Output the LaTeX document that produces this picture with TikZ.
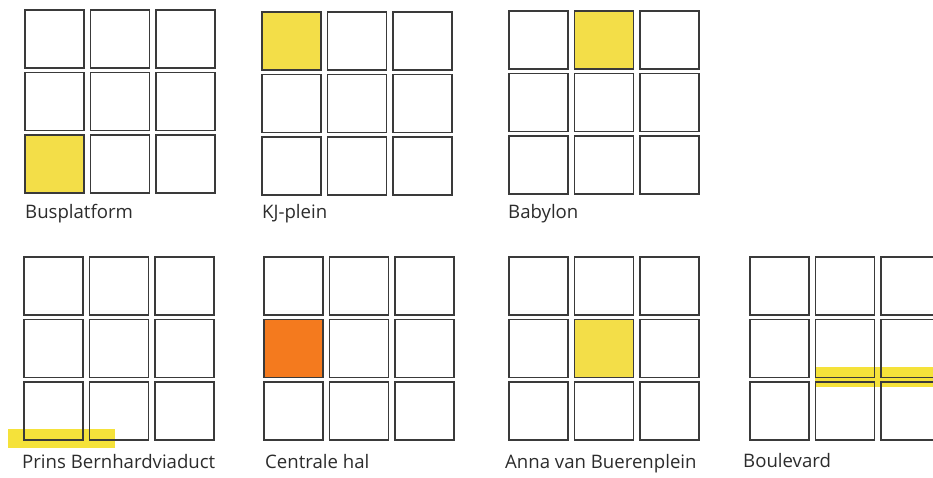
\documentclass[tikz,border=0pt]{standalone}
\usepackage{fontspec}
\setmainfont{Open Sans}
\usetikzlibrary{backgrounds}
\definecolor{linec}{HTML}{3A3A3A}
\definecolor{txtc}{HTML}{2C2C2C}
\definecolor{yel}{HTML}{F3DE48}
\definecolor{yelbar}{HTML}{F5E23A}
\definecolor{orng}{HTML}{F47A1E}
\tikzset{
  cell/.style={draw=linec, line width=1.7pt, minimum width=59pt, minimum height=58pt, inner sep=0pt, anchor=north west},
  lbl/.style={anchor=base west, inner sep=0pt, text=txtc, font=\fontsize{18.6}{20}\selectfont},
}
\begin{document}
\begin{tikzpicture}[x=1pt,y=-1pt]
\useasboundingbox (0,0) rectangle (933,477);
\clip (0,0) rectangle (933,477);
\foreach \gx/\gy/\gn in {24/9/a, 261/11/b, 508/10/c, 23/256/d, 263/256/e, 508/256/f, 749/256/g}{
  \foreach \i in {0,1,2}{
    \foreach \j in {0,1,2}{
      \node[cell] (\gn\i\j) at ({\gx+\i*65.5}, {\gy+\j*62.5}) {};
    }
  }
}
\begin{scope}[on background layer]
  \fill[white] (0,0) rectangle (933,477);
  \fill[yel] (a02.north west) rectangle (a02.south east);
  \fill[yel] (b00.north west) rectangle (b00.south east);
  \fill[yel] (c10.north west) rectangle (c10.south east);
  \fill[orng] (e01.north west) rectangle (e01.south east);
  \fill[yel] (f11.north west) rectangle (f11.south east);
  \fill[yelbar] (8,429) rectangle (115,448);
  \fill[yelbar] (815,367) rectangle (933,387);
\end{scope}
\node[lbl] (la) at (25,218) {Busplatform};
\node[lbl] (lb) at (262,218) {KJ-plein};
\node[lbl] (lc) at (508,218) {Babylon};
\node[lbl] (ld) at (22,468) {Prins Bernhardviaduct};
\node[lbl] (le) at (265,468) {Centrale hal};
\node[lbl] (lf) at (505,468) {Anna van Buerenplein};
\node[lbl] (lg) at (743,467) {Boulevard};
\end{tikzpicture}
\end{document}
